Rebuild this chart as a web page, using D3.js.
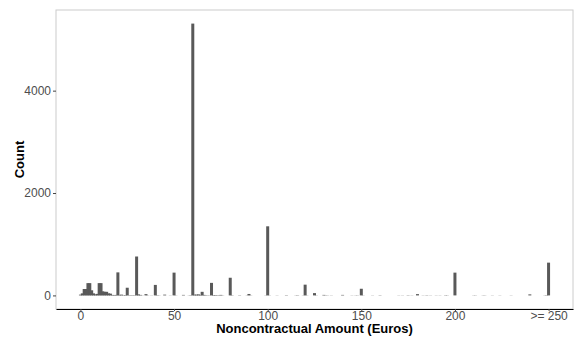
<!DOCTYPE html>
<html><head><meta charset="utf-8">
<script src="https://cdn.jsdelivr.net/npm/d3@7"></script>
<style>body{margin:0;background:#fff}svg{display:block}</style></head>
<body><svg id="c" width="575" height="338"></svg>
<script>
const amounts = [0,1,2,3,4,5,6,7,8,9,10,11,12,13,14,15,16,17,18,19,20,21,22,23,24,25,26,27,28,29,30,31,32,33,35,36,38,40,41,42,45,48,50,51,55,58,59,60,61,62,63,64,65,66,67,68,69,70,71,72,73,74,75,76,80,81,85,89,90,91,99,100,101,105,110,115,116,119,120,121,125,126,130,131,132,134,140,145,147,148,150,151,156,160,170,172,175,177,180,183,185,187,190,192,195,196,200,210,211,215,216,220,224,230,240,248,249,250];
const counts  = [15,40,125,125,240,240,100,40,20,30,240,240,80,70,70,40,35,10,8,10,450,10,15,5,8,150,5,5,5,5,760,20,10,3,25,3,3,205,5,3,15,3,445,3,10,3,5,5310,15,15,20,10,70,10,5,3,3,245,8,8,5,5,10,3,345,5,5,3,28,3,3,1350,3,3,6,3,5,3,210,3,45,3,10,3,3,3,10,3,3,3,130,3,3,5,3,3,5,3,25,3,5,3,3,3,5,3,445,3,3,3,3,3,3,3,20,3,5,640];
const xTickValues = [0,50,100,150,200,250];
const xTickLabels = ["0","50","100","150","200",">= 250"];
const yTickValues = [0,2000,4000];

const svg = d3.select("#c");
const L = 56, R = 573, T = 10, B = 309;
const xmin = -0.5, xmax = 250.5, xpad = (xmax - xmin) * 0.05;
const x = d3.scaleLinear().domain([xmin - xpad, xmax + xpad]).range([L, R]);
const ymax = d3.max(counts);
const y = d3.scaleLinear().domain([-0.05 * ymax, 1.05 * ymax]).range([B, T]);
const font = "'Liberation Sans', Arial, sans-serif";
const halfW = 0.8;

const data = amounts.map((a, i) => ({a, c: counts[i]}));
svg.append("g").selectAll("rect").data(data).join("rect")
  .attr("x", d => x(d.a - halfW))
  .attr("width", d => x(d.a + halfW) - x(d.a - halfW))
  .attr("y", d => y(d.c))
  .attr("height", d => y(0) - y(d.c))
  .attr("fill", "#595959");

// panel border
svg.append("rect").attr("x", L).attr("y", T).attr("width", R - L).attr("height", B - T)
  .attr("fill", "none").attr("stroke", "#cccccc").attr("stroke-width", 1);

// x axis
const gx = svg.append("g").attr("transform", `translate(0,${B})`)
  .call(d3.axisBottom(x).tickValues(xTickValues).tickFormat((d, i) => xTickLabels[i]).tickSize(2).tickPadding(0).tickSizeOuter(0));
gx.select(".domain").attr("stroke", "#000").attr("stroke-width", 1.1);
gx.selectAll(".tick line").attr("stroke", "#444");
gx.selectAll("text").attr("fill", "#4d4d4d").style("font-family", font).style("font-size", "12px");

// y axis
const gy = svg.append("g").attr("transform", `translate(${L},0)`)
  .call(d3.axisLeft(y).tickValues(yTickValues).tickFormat(d3.format("d")).tickSize(3).tickPadding(2));
gy.select(".domain").remove();
gy.selectAll(".tick line").attr("stroke", "#444");
gy.selectAll("text").attr("fill", "#4d4d4d").style("font-family", font).style("font-size", "12px");

svg.append("text").attr("x", (L + R) / 2).attr("y", 333).attr("text-anchor", "middle")
  .style("font-family", font).style("font-size", "13px").style("font-weight", "bold")
  .text("Noncontractual Amount (Euros)");
svg.append("text").attr("transform", `translate(24,${(T + B) / 2}) rotate(-90)`).attr("text-anchor", "middle")
  .style("font-family", font).style("font-size", "13px").style("font-weight", "bold")
  .text("Count");
</script>
</body></html>
